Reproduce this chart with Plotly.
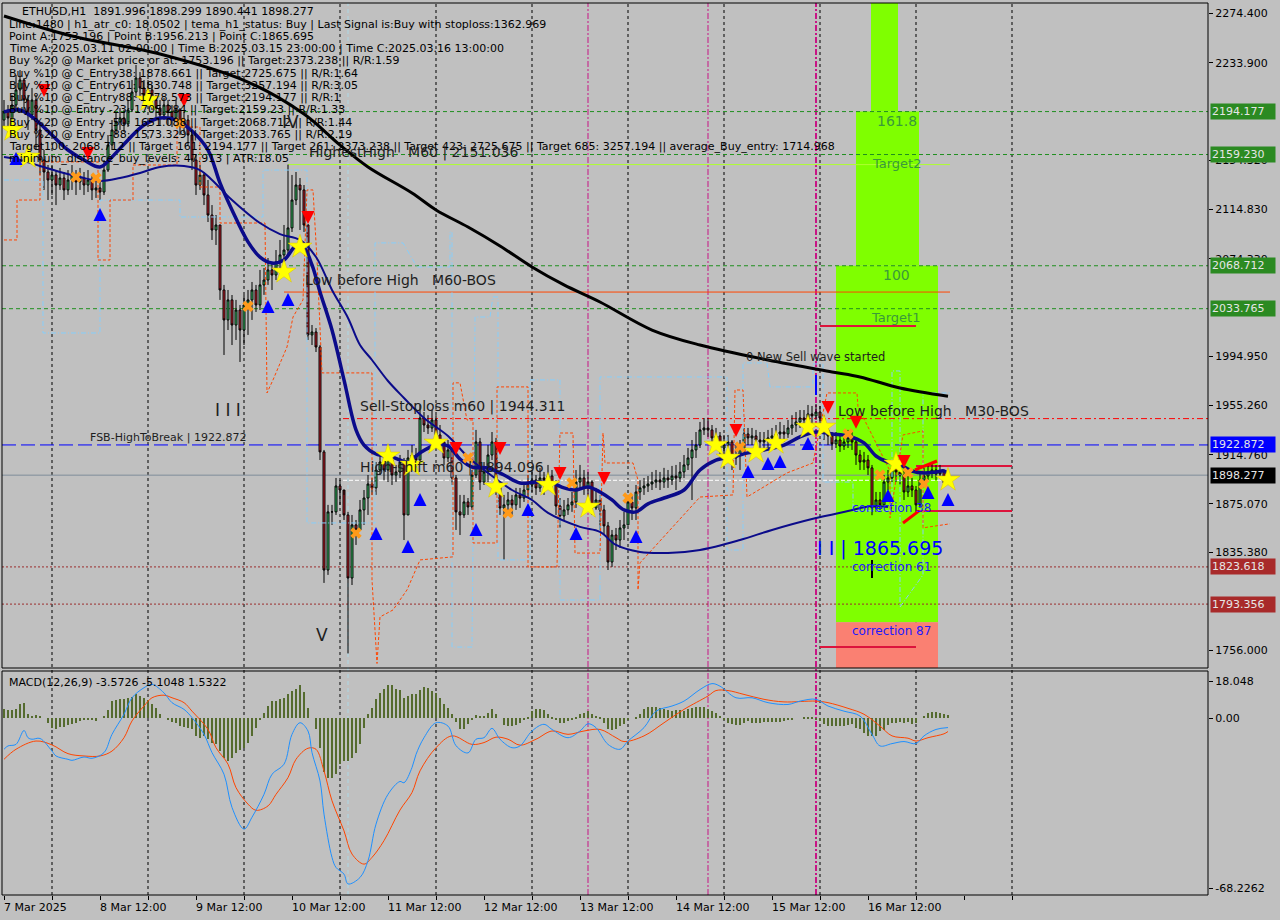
import plotly.graph_objects as go
import pandas as pd

FONT = "DejaVu Sans"
W, H = 1280, 920
ML, MR, MT, MB = 2, 72, 3, 25
PW = W - ML - MR
PH = H - MT - MB


def px(xp):
    return (xp - ML) / PW


def py(yp):
    return (H - MB - yp) / PH


# ---------------- data (ETHUSD H1) ----------------
start_time = "2025-03-07 12:00"
first_open = 2187.3
closes = [
    2194.0, 2189.0, 2199.5, 2211.8, 2219.9, 2203.6, 2191.4, 2203.6, 2179.2, 2154.8,
    2145.0, 2138.5, 2142.6, 2134.4, 2140.1, 2130.4, 2138.5, 2142.6, 2136.9, 2140.1,
    2134.4, 2138.5, 2130.4, 2132.0, 2128.7, 2146.6, 2167.0, 2179.2, 2185.7, 2189.0,
    2184.1, 2195.5, 2210.1, 2221.5, 2213.4, 2207.7, 2211.8, 2203.6, 2197.1, 2191.4,
    2199.5, 2193.8, 2189.0, 2195.5, 2183.3, 2187.3, 2175.1, 2154.8, 2134.4, 2142.6,
    2126.3, 2110.0, 2097.8, 2101.9, 2049.0, 2024.6, 2040.9, 2020.5, 2032.7, 2016.4,
    2036.8, 2040.9, 2049.0, 2036.8, 2053.1, 2057.1, 2065.3, 2061.2, 2071.8, 2077.5,
    2081.5, 2099.5, 2122.2, 2134.4, 2130.4, 2101.9, 2012.4, 2014.8, 2002.6, 1917.2,
    1821.1, 1868.4, 1868.4, 1889.5, 1886.2, 1865.9, 1814.6, 1857.8, 1853.7, 1870.0,
    1879.7, 1891.1, 1887.9, 1902.5, 1909.0, 1902.5, 1910.6, 1898.4, 1900.9, 1909.0,
    1865.9, 1912.3, 1914.7, 1910.6, 1944.8, 1939.1, 1936.7, 1943.2, 1931.0, 1925.3,
    1912.3, 1918.8, 1896.0, 1868.4, 1865.9, 1876.5, 1872.4, 1898.4, 1925.3, 1892.7,
    1900.9, 1914.7, 1925.3, 1889.5, 1871.6, 1874.1, 1878.1, 1874.1, 1882.2, 1879.7,
    1886.2, 1890.3, 1894.4, 1887.9, 1896.0, 1894.4, 1897.6, 1891.1, 1873.2, 1865.1,
    1870.0, 1874.1, 1876.5, 1892.7, 1896.0, 1887.9, 1892.7, 1871.6, 1878.1, 1870.0,
    1857.0, 1827.6, 1849.6, 1845.5, 1855.3, 1857.8, 1876.5, 1871.6, 1884.6, 1887.9,
    1889.5, 1891.1, 1892.7, 1894.4, 1892.7, 1896.0, 1894.4, 1897.6, 1896.0, 1900.9,
    1906.6, 1912.3, 1918.8, 1922.8, 1935.1, 1936.7, 1935.1, 1928.6, 1930.2, 1920.4,
    1922.8, 1925.3, 1912.3, 1914.7, 1920.4, 1931.8, 1928.6, 1930.2, 1926.9, 1925.3,
    1926.9, 1928.6, 1930.2, 1931.8, 1933.4, 1931.8, 1936.7, 1939.1, 1941.6, 1944.8,
    1943.2, 1948.1, 1946.5, 1949.7, 1944.8, 1935.1, 1930.2, 1923.7, 1926.9, 1922.0,
    1925.3, 1928.6, 1925.3, 1914.7, 1909.0, 1910.6, 1904.2, 1871.6, 1878.1, 1874.1,
    1892.7, 1896.0, 1904.2, 1900.9, 1898.4, 1884.6, 1889.5, 1886.2, 1874.1, 1894.4,
    1897.6, 1900.9, 1902.5, 1899.2, 1900.9, 1891.996, 1898.277,
]
highs = [
    2203.6, 2199.5, 2207.7, 2224.0, 2228.0, 2221.5, 2207.7, 2213.4, 2207.7, 2183.3,
    2162.9, 2150.7, 2150.7, 2146.6, 2148.3, 2145.0, 2146.6, 2150.7, 2146.6, 2148.3,
    2145.0, 2146.6, 2142.6, 2140.1, 2138.5, 2154.8, 2175.1, 2187.3, 2193.8, 2197.1,
    2195.5, 2203.6, 2219.9, 2232.1, 2226.4, 2219.9, 2219.9, 2215.8, 2207.7, 2203.6,
    2205.2, 2203.6, 2199.5, 2203.6, 2197.1, 2193.8, 2191.4, 2179.2, 2158.8, 2150.7,
    2145.0, 2138.5, 2118.1, 2110.0, 2101.9, 2053.1, 2049.0, 2044.9, 2040.9, 2036.8,
    2044.9, 2049.0, 2055.5, 2053.1, 2065.3, 2066.9, 2075.0, 2071.8, 2081.5, 2089.7,
    2101.9, 2151.036, 2142.6, 2145.0, 2140.1, 2134.4, 2102.5, 2020.5, 2018.0, 2004.2,
    1918.8, 1874.1, 1874.1, 1896.0, 1894.4, 1882.2, 1868.4, 1865.9, 1861.8, 1878.1,
    1886.2, 1898.4, 1896.0, 1909.0, 1914.7, 1914.7, 1920.4, 1914.7, 1906.6, 1914.7,
    1912.3, 1918.8, 1922.8, 1920.4, 1955.4, 1949.7, 1947.1, 1951.3, 1947.1, 1939.1,
    1926.9, 1926.9, 1918.8, 1898.4, 1882.2, 1882.2, 1879.7, 1902.5, 1935.1, 1928.6,
    1909.0, 1922.8, 1933.4, 1928.6, 1890.3, 1882.2, 1884.6, 1882.2, 1887.9, 1887.9,
    1892.7, 1898.4, 1902.5, 1898.4, 1904.2, 1900.9, 1906.6, 1902.5, 1894.4, 1879.7,
    1878.1, 1879.7, 1884.6, 1902.5, 1906.6, 1902.5, 1900.9, 1894.4, 1887.9, 1882.2,
    1874.1, 1860.2, 1853.7, 1855.3, 1861.8, 1868.4, 1882.2, 1882.2, 1890.3, 1894.4,
    1896.0, 1897.6, 1900.9, 1902.5, 1900.9, 1904.2, 1902.5, 1905.8, 1906.6, 1909.0,
    1914.7, 1920.4, 1926.9, 1933.4, 1941.6, 1944.8, 1944.8, 1939.1, 1936.7, 1933.4,
    1931.0, 1931.0, 1926.9, 1922.8, 1926.9, 1936.7, 1936.7, 1936.7, 1935.1, 1933.4,
    1933.4, 1935.1, 1936.7, 1939.1, 1941.6, 1939.1, 1943.2, 1947.1, 1949.7, 1951.3,
    1951.3, 1955.4, 1954.6, 1956.213, 1954.6, 1947.1, 1939.1, 1933.4, 1933.4, 1931.0,
    1931.8, 1935.1, 1933.4, 1928.6, 1918.8, 1917.2, 1914.7, 1906.6, 1884.6, 1884.6,
    1898.4, 1902.5, 1910.6, 1909.0, 1906.6, 1902.5, 1897.6, 1896.0, 1889.5, 1900.9,
    1904.2, 1906.6, 1909.0, 1906.6, 1906.6, 1902.0, 1898.299,
]
lows = [
    2181.6, 2175.1, 2185.7, 2195.5, 2203.6, 2195.5, 2179.2, 2187.3, 2162.9, 2142.6,
    2130.4, 2122.2, 2126.3, 2118.1, 2130.4, 2122.2, 2126.3, 2130.4, 2126.3, 2130.4,
    2126.3, 2128.7, 2122.2, 2123.9, 2122.2, 2126.3, 2145.0, 2162.9, 2175.1, 2179.2,
    2177.6, 2181.6, 2193.8, 2205.2, 2203.6, 2199.5, 2202.0, 2195.5, 2189.0, 2183.3,
    2187.3, 2183.3, 2181.6, 2185.7, 2175.1, 2176.8, 2167.0, 2146.6, 2126.3, 2130.4,
    2118.1, 2104.3, 2089.7, 2085.6, 2040.9, 1996.1, 2016.4, 2004.2, 2008.3, 1990.4,
    2004.2, 2012.4, 2024.6, 2031.1, 2032.7, 2045.0, 2053.1, 2049.0, 2057.1, 2065.3,
    2071.8, 2077.5, 2096.2, 2118.1, 2097.8, 2096.2, 2008.3, 2004.2, 1998.5, 1910.6,
    1810.6, 1817.1, 1857.8, 1865.9, 1874.1, 1861.8, 1753.196, 1808.9, 1841.5, 1853.7,
    1857.8, 1865.9, 1882.2, 1882.2, 1898.4, 1894.4, 1892.7, 1890.3, 1892.7, 1896.0,
    1845.5, 1865.9, 1906.6, 1902.5, 1909.0, 1933.4, 1931.8, 1933.4, 1922.8, 1918.8,
    1906.6, 1909.0, 1890.3, 1853.7, 1849.6, 1863.5, 1865.9, 1870.0, 1896.0, 1886.2,
    1890.3, 1892.7, 1910.6, 1882.2, 1865.9, 1829.3, 1868.4, 1865.9, 1870.0, 1871.6,
    1876.5, 1879.7, 1884.6, 1882.2, 1884.6, 1882.2, 1887.9, 1884.6, 1865.9, 1855.4,
    1861.8, 1865.9, 1868.4, 1871.6, 1887.9, 1882.2, 1878.1, 1865.9, 1870.0, 1853.7,
    1849.6, 1821.1, 1823.6, 1837.4, 1839.0, 1845.5, 1857.8, 1861.8, 1861.8, 1878.1,
    1882.2, 1884.6, 1886.2, 1887.9, 1886.2, 1887.9, 1887.9, 1890.3, 1886.2, 1892.7,
    1896.0, 1902.5, 1878.1, 1912.3, 1920.4, 1931.0, 1929.4, 1922.8, 1922.8, 1914.7,
    1912.3, 1918.8, 1902.5, 1906.6, 1902.5, 1914.7, 1922.8, 1922.8, 1918.8, 1918.8,
    1920.4, 1920.4, 1922.8, 1925.3, 1925.3, 1925.3, 1928.6, 1931.0, 1933.4, 1936.7,
    1936.7, 1940.0, 1940.0, 1943.2, 1935.1, 1926.9, 1922.8, 1918.8, 1920.4, 1917.2,
    1918.8, 1920.4, 1918.8, 1906.6, 1902.5, 1902.5, 1898.4, 1865.695, 1868.4, 1868.4,
    1874.1, 1886.2, 1892.7, 1892.7, 1890.3, 1878.1, 1880.5, 1880.5, 1868.4, 1871.6,
    1890.3, 1894.4, 1896.0, 1894.4, 1896.0, 1890.5, 1890.441,
]
n_bars = len(closes)
bars = list(range(n_bars))
# H1 crypto bars open at the previous bar's close
opens = [first_open] + closes[:-1]
times = pd.date_range(start_time, periods=n_bars, freq="h")

# indicator lines: (bar, value)
tema_pts = [(0, 2193.9), (4, 2195.5), (8, 2187.3), (12, 2175.1), (16, 2162.9), (20, 2154.8), (24, 2149.1),
            (27, 2157.2), (31, 2171.1), (35, 2183.3), (39, 2189.0), (43, 2187.3), (47, 2178.4), (51, 2162.9),
            (54, 2136.1), (57, 2114.1), (61, 2088.1), (64, 2075.8), (67, 2070.9), (70, 2073.4), (73, 2084.8),
            (75, 2083.2), (77, 2069.4), (79, 2047.4), (82, 2016.4), (85, 1975.8), (88, 1935.1), (90, 1922.8),
            (93, 1915.5), (97, 1913.1), (101, 1909.0), (104, 1916.4), (108, 1922.8), (111, 1922.0), (114, 1911.4),
            (117, 1904.9), (121, 1904.1), (125, 1898.4), (129, 1891.9), (133, 1892.7), (137, 1891.9), (140, 1887.9),
            (143, 1886.2), (146, 1888.7), (149, 1884.6), (152, 1878.1), (155, 1870.0), (158, 1868.4), (161, 1874.9),
            (165, 1879.7), (170, 1886.2), (174, 1902.5), (178, 1910.6), (182, 1913.1), (186, 1916.4), (190, 1918.8),
            (195, 1922.8), (199, 1929.4), (203, 1933.4), (207, 1931.8), (211, 1930.2), (215, 1924.5), (218, 1913.9),
            (221, 1909.0), (224, 1906.6), (227, 1901.7), (230, 1900.1), (233, 1900.9), (235, 1901.7), (236, 1899.2)]
ma_pts = [(0, 2157.2), (4, 2154.8), (9, 2149.9), (14, 2145.0), (19, 2140.9), (24, 2137.7), (29, 2140.1),
          (34, 2144.2), (39, 2149.1), (45, 2149.9), (49, 2146.6), (52, 2138.5), (57, 2122.2), (64, 2103.5),
          (69, 2094.5), (74, 2089.7), (78, 2075.8), (82, 2049.0), (86, 2026.2), (89, 2004.2), (92, 1992.0),
          (96, 1974.9), (100, 1961.1), (105, 1944.8), (111, 1930.2), (116, 1913.1), (121, 1900.1), (127, 1886.2),
          (132, 1878.1), (136, 1867.6), (144, 1856.2), (149, 1852.1), (153, 1841.5), (159, 1835.8), (166, 1835.0),
          (174, 1837.4), (184, 1845.5), (192, 1853.7), (202, 1862.6), (211, 1869.1), (217, 1873.2), (221, 1872.4)]
ma200_pts = [(0, 2272.0), (17, 2255.7), (39, 2241.0), (61, 2218.2), (75, 2192.2), (84, 2166.9), (91, 2149.1),
             (102, 2127.9), (108, 2114.1), (116, 2100.2), (124, 2084.8), (132, 2067.7), (140, 2053.1), (149, 2039.2),
             (162, 2016.4), (174, 2004.2), (191, 1992.0), (207, 1982.3), (214, 1978.2), (224, 1969.2), (236, 1962.5)]
atr_stop_pts = [(0, 2089.7), (3.25, 2089.7), (3.25, 2122.2), (9, 2122.2), (9, 2153.2), (23.5, 2153.2), (23.5, 2073.4),
                (26.5, 2073.4), (26.5, 2122.2), (32.25, 2122.2), (32.25, 2150.7), (43.25, 2150.7), (43.25, 2181.6),
                (49, 2181.6), (49, 2132.8), (54, 2132.8), (54, 2103.5), (65.25, 2103.5), (65.75, 1965.2), (67.25, 1975.8),
                (70.75, 2002.6), (72.25, 2027.0), (74.75, 2040.9), (75.75, 2130.4), (77.25, 2130.4), (78.25, 2073.4),
                (79.5, 1981.5), (92, 1981.5), (92, 1813.0), (93.25, 1745.0), (94, 1782.9), (97.25, 1788.6),
                (100.75, 1804.9), (104, 1829.3), (112.25, 1831.8), (112.25, 1973.4), (114, 1973.4), (115.75, 1943.2),
                (117.25, 1943.2), (117.25, 1843.1), (123.25, 1843.1), (123.25, 1970.1), (131, 1970.1), (131, 1823.6),
                (138.25, 1823.6), (139, 1932.6), (142.25, 1932.6), (142.75, 1834.9), (149, 1834.9), (149.75, 1932.6),
                (150.25, 1908.2), (157.25, 1908.2), (158.5, 1894.4), (158.5, 1804.9), (159, 1826.9), (174, 1880.5),
                (182.25, 1882.2), (182.75, 1967.6), (184.75, 1967.6), (185.75, 1880.5), (195.75, 1900.1),
                (202.25, 1908.2), (205.75, 1965.2), (213.25, 1965.2), (213.5, 1953.8), (221.5, 1901.7),
                (221.5, 1863.5), (224.75, 1931.0), (229.75, 1934.3), (229.75, 1855.4), (236.5, 1858.7)]
channel_pts = [(0, 2138.5), (9.75, 2138.5), (9.75, 2014.0), (24, 2014.0), (24, 2122.2), (44, 2122.2), (44, 2108.4),
               (64.75, 2108.4), (64.75, 2146.6), (75.75, 2146.6), (75.75, 1859.4), (92.75, 1859.4), (92.75, 2087.3),
               (99.75, 2087.3), (103.25, 2067.7), (111.5, 2067.7), (111.5, 2096.2), (112, 2096.2), (112, 1758.4),
               (117, 1758.4), (117.75, 2027.0), (121.5, 2027.0), (122.25, 2043.3), (123.5, 2043.3), (123.5, 1829.3),
               (131.5, 1829.3), (131.5, 1975.8), (139, 1975.8), (139, 1796.7), (149, 1796.7), (149, 1978.2),
               (180.75, 1978.2), (180.75, 1837.4), (184.75, 1837.4), (184.75, 1989.6), (190.75, 1989.6),
               (191.5, 1970.1), (202.25, 1970.1), (202.25, 1988.8), (204.75, 1988.8), (204.75, 1892.7),
               (212.25, 1892.7), (212.25, 1869.3), (222, 1869.3), (222, 1983.1), (224, 1983.1), (224, 1791.0),
               (229.75, 1817.1), (229.75, 1965.2), (236.5, 1965.2)]

# signal markers: (bar, price)
star_pts = [(2, 2179.2), (6, 2157.2), (36, 2203.6), (70, 2063.7), (74, 2084.0), (96, 1913.9), (102, 1906.6),
            (108, 1924.5), (123, 1888.7), (136, 1890.3), (146, 1872.4), (178, 1922.8), (181, 1912.3), (188, 1917.2),
            (193, 1924.5), (201, 1937.5), (205, 1937.5), (223, 1907.4), (236, 1894.4)]
cross_pts = [(18, 2140.9), (23, 2140.1), (44, 2184.9), (61, 2035.7), (88, 1851.2), (116, 1912.3), (126, 1867.6),
             (142, 1892.0), (156, 1879.7), (184, 1921.2), (211, 1931.8), (219, 1898.4), (226, 1900.1), (230, 1891.1)]
buy_arrow_pts = [(3, 2161.3), (24, 2115.7), (66, 2040.9), (71, 2046.6), (93, 1856.2), (101, 1845.5), (104, 1883.8),
                 (118, 1859.4), (131, 1875.7), (143, 1856.2), (158, 1853.7), (186, 1906.6), (191, 1913.1),
                 (194, 1914.7), (201, 1929.4), (221, 1887.1), (231, 1889.5), (236, 1883.8)]
sell_arrow_pts = [(10, 2206.1), (21, 2154.8), (45, 2197.9), (76, 2102.7), (113, 1914.7), (124, 1914.7),
                  (139, 1894.4), (150, 1890.3), (183, 1929.4), (206, 1948.1), (213, 1936.0), (225, 1904.2)]

# MACD(12,26,9)
macd_hist = [
    3.5, 3.3, 3.3, 3.8, 5.5, 5.8, 1.6, 0.9, 1.3, 0.9,
    0.0, -1.7, -3.6, -4.0, -3.4, -3.4, -2.6, -2.3, -1.7, -1.0,
    -0.8, -0.8, -0.8, -1.0, 0.0, 0.9, 3.1, 6.7, 7.1, 7.4,
    7.6, 8.0, 8.3, 9.6, 8.7, 8.0, 7.1, 5.4, 3.9, 1.8,
    0.0, -0.8, -1.3, -1.7, -3.0, -3.4, -3.6, -4.3, -6.8, -7.5,
    -6.8, -8.1, -9.4, -10.1, -12.7, -15.2, -16.5, -15.2, -13.3, -12.4,
    -11.6, -9.4, -6.8, -3.6, -0.4, 2.2, 4.8, 6.7, 6.7, 7.4,
    7.8, 9.3, 10.6, 11.6, 12.9, 10.3, 4.1, 0.0, -4.3, -11.4,
    -21.0, -23.0, -23.0, -21.7, -17.8, -16.5, -16.5, -15.2, -13.3, -10.1,
    -3.6, 1.6, 4.1, 7.4, 9.9, 11.6, 12.9, 12.9, 11.6, 10.9,
    8.0, 8.7, 9.5, 9.3, 11.2, 12.1, 11.7, 10.8, 10.0, 8.0,
    5.7, 3.9, 1.6, -1.3, -4.3, -4.3, -2.3, -0.4, 1.3, 0.9,
    0.9, 2.2, 3.5, 1.6, 0.0, -2.6, -3.0, -3.0, -2.6, -1.7,
    -0.4, 0.6, 2.8, 3.5, 3.7, 3.1, 1.8, 0.6, -0.4, -1.7,
    -1.7, -1.0, -0.4, 0.3, 1.6, 2.2, 2.8, 1.6, 0.9, 0.3,
    -1.7, -4.3, -4.7, -4.3, -3.0, -2.1, -0.7, 0.0, 0.6, 1.6,
    3.5, 4.4, 4.4, 4.4, 4.1, 3.5, 3.1, 2.8, 3.1,
    3.1, 2.8, 3.5, 3.9, 4.4, 4.4, 4.4, 3.5, 2.8,
    2.2, 0.9, -0.4, -1.7, -2.1, -2.6, -2.6, -1.7, -1.0, -1.7,
    -1.7, -1.7, -1.4, -1.3, -1.3, -1.4, -1.3, -1.0, -0.7,
    -0.4, 0.0, 0.0, 0.3, 0.6, 0.6, -0.4, -1.0, -2.3, -3.0,
    -3.0, -3.0, -3.0, -3.0, -2.6, -2.3, -3.6, -4.3, -5.6, -6.8,
    -6.8, -6.8, -4.9, -4.7, -2.6, -1.7, -1.7, -1.3, -1.7, -1.3,
    -2.3, -1.7, 0.0, 0.9, 2.2, 2.6, 2.6, 2.2, 1.8, 1.5,
]
macd_main_pts = [(0, -12.0), (1, -10.7), (3, -10.1), (5, -4.7), (6, -7.5), (7, -8.1), (9, -7.8), (12, -12.7),
                 (13, -14.6), (16, -15.9), (17, -16.3), (20, -15.0), (22, -15.5), (25, -13.3), (27, -6.2), (30, 1.6),
                 (32, 8.0), (35, 11.9), (37, 13.2), (40, 9.9), (42, 6.1), (45, 3.5), (47, 0.3), (50, -6.2),
                 (52, -13.3), (55, -21.7), (57, -34.6), (60, -43.0), (62, -38.4), (65, -29.5), (67, -21.7),
                 (70, -17.8), (72, -6.2), (74, -1.7), (76, -4.9), (77, -13.3), (79, -24.3), (80, -37.2), (82, -54.0),
                 (83, -57.9), (85, -60.5), (86, -64.3), (89, -61.8), (91, -55.3), (93, -41.1), (96, -29.5),
                 (99, -24.5), (100, -25.0), (102, -19.1), (103, -14.0), (105, -7.5), (108, -1.7), (111, -3.0),
                 (113, -10.6), (116, -13.4), (118, -8.1), (120, -7.5), (122, -3.9), (124, -8.1), (127, -11.4),
                 (129, -10.7), (132, -4.9), (135, -2.3), (137, -4.3), (141, -7.5), (144, -4.9), (146, -2.1),
                 (148, -3.6), (151, -10.1), (154, -12.0), (156, -8.8), (160, -3.6), (163, 2.8), (167, 4.8),
                 (170, 6.7), (174, 11.2), (177, 13.5), (179, 12.5), (183, 8.0), (187, 8.0), (191, 6.1), (196, 5.4),
                 (199, 6.7), (203, 7.4), (206, 4.8), (210, 2.8), (214, 0.9), (217, -6.2), (219, -10.7), (222, -9.8),
                 (225, -9.0), (228, -9.8), (230, -6.8), (233, -4.3), (236, -3.5726)]
macd_signal_pts = [(0, -15.9), (3, -12.0), (8, -8.8), (12, -10.3), (16, -13.7), (20, -14.6), (24, -14.6),
                   (27, -12.7), (30, -7.5), (32, -1.0), (35, 4.8), (37, 8.0), (40, 9.0), (42, 8.0), (45, 6.1),
                   (47, 2.8), (51, -4.3), (53, -11.4), (56, -17.8), (58, -26.9), (61, -33.3), (63, -35.7),
                   (66, -34.0), (68, -29.5), (71, -23.0), (73, -15.9), (76, -11.6), (78, -12.0), (80, -20.4),
                   (82, -32.0), (85, -43.7), (87, -52.7), (90, -56.6), (92, -54.0), (95, -47.5), (99, -35.6),
                   (102, -28.8), (104, -20.4), (108, -11.4), (112, -6.8), (117, -10.1), (120, -9.4), (123, -7.3),
                   (126, -8.1), (129, -10.4), (133, -8.1), (137, -4.9), (141, -6.2), (145, -4.9), (149, -4.3),
                   (153, -7.5), (155, -9.0), (160, -6.8), (165, -1.7), (170, 3.5), (176, 8.7), (178, 10.8),
                   (181, 10.8), (185, 9.3), (190, 7.4), (195, 6.4), (203, 6.7), (206, 6.1), (211, 3.9), (215, 1.6),
                   (219, -3.0), (222, -6.8), (226, -7.7), (228, -8.8), (231, -7.5), (235, -6.0), (236, -5.1048)]

# levels
lvl_target161 = 2194.177
lvl_target_e23 = 2159.230
lvl_target100 = 2068.712
lvl_target_e88 = 2033.765
lvl_fsb = 1922.872
lvl_last = 1898.277
lvl_red1 = 1823.618
lvl_red2 = 1793.356
lvl_highest_high = 2151.036
lvl_low_before_high = 2047.3
lvl_sell_sl = 1944.311
lvl_high_shift = 1894.096
lvl_c38 = 1878.661
lvl_c61 = 1830.748
lvl_c88 = 1778.573
box_levels = [2194.177, 2159.230, 2068.712, 2033.765, 1922.872, 1898.277, 1823.618, 1793.356]
box_colors = ["#2b8a22", "#2b8a22", "#2b8a22", "#2b8a22", "#0000ff", "#000000", "#a82a2a", "#a82a2a"]
price_ticks = [2274.400, 2233.900, 2154.320, 2114.830, 2074.330, 1994.950,
               1955.260, 1914.760, 1875.070, 1835.380, 1756.000]
xlabel_times = ["2025-03-07 12:00", "2025-03-08 12:00", "2025-03-09 12:00", "2025-03-10 12:00",
                "2025-03-11 12:00", "2025-03-12 12:00", "2025-03-13 12:00", "2025-03-14 12:00",
                "2025-03-15 12:00", "2025-03-16 12:00"]
xlabel_text = ["7 Mar 2025", "8 Mar 12:00", "9 Mar 12:00", "10 Mar 12:00", "11 Mar 12:00",
               "12 Mar 12:00", "13 Mar 12:00", "14 Mar 12:00", "15 Mar 12:00", "16 Mar 12:00"]

info_lines = [
    "Line:1480 | h1_atr_c0: 18.0502 | tema_h1_status: Buy | Last Signal is:Buy with stoploss:1362.969",
    "Point A:1753.196 | Point B:1956.213 | Point C:1865.695",
    "Time A:2025.03.11 02:00:00 | Time B:2025.03.15 23:00:00 | Time C:2025.03.16 13:00:00",
    "Buy %20 @ Market price or at: 1753.196 || Target:2373.238 || R/R:1.59",
    "Buy %10 @ C_Entry38: 1878.661 || Target:2725.675 || R/R:1.64",
    "Buy %10 @ C_Entry61: 1830.748 || Target:3257.194 || R/R:3.05",
    "Buy %10 @ C_Entry88: 1778.573 || Target:2194.177 || R/R:1",
    "Buy %10 @ Entry -23: 1705.284 || Target:2159.23 || R/R:1.33",
    "Buy %20 @ Entry -50: 1651.088 || Target:2068.712 || R/R:1.44",
    "Buy %20 @ Entry -88: 1573.329 || Target:2033.765 || R/R:2.19",
    "Target100: 2068.712 || Target 161: 2194.177 || Target 261: 2373.238 || Target 423: 2725.675 || "
    "Target 685: 3257.194 || average_Buy_entry: 1714.968",
    "minimum_distance_buy_levels: 47.913 | ATR:18.05",
]

# ---------------- figure ----------------
X_RANGE = [-0.5, 301.0]
Y_RANGE = [1741.35, 2282.54]
M_RANGE = [-68.6, 18.4]
main_bottom = py(668)
macd_top = py(671)

fig = go.Figure()


def unzip(pts):
    return [p[0] for p in pts], [p[1] for p in pts]


# step bands (behind)
xs, ys = unzip(channel_pts)
fig.add_trace(go.Scatter(x=xs, y=ys, mode="lines", line=dict(color="#87cefa", width=1, dash="5px,2px,1px,2px"),
                         hoverinfo="skip", showlegend=False))
xs, ys = unzip(atr_stop_pts)
fig.add_trace(go.Scatter(x=xs, y=ys, mode="lines", line=dict(color="#ff4500", width=1, dash="3px,2px"),
                         hoverinfo="skip", showlegend=False))

fig.add_trace(go.Candlestick(
    x=bars, open=opens, high=highs, low=lows, close=closes,
    increasing=dict(fillcolor="#3ccf6e", line=dict(color="#000000", width=1)),
    decreasing=dict(fillcolor="#d4202c", line=dict(color="#000000", width=1)),
    whiskerwidth=0, hoverinfo="skip", showlegend=False))

xs, ys = unzip(ma200_pts)
fig.add_trace(go.Scatter(x=xs, y=ys, mode="lines", line=dict(color="#000000", width=3, shape="spline"),
                         hoverinfo="skip", showlegend=False))
xs, ys = unzip(ma_pts)
fig.add_trace(go.Scatter(x=xs, y=ys, mode="lines", line=dict(color="#0b0b8a", width=2, shape="spline"),
                         hoverinfo="skip", showlegend=False))
xs, ys = unzip(tema_pts)
fig.add_trace(go.Scatter(x=xs, y=ys, mode="lines", line=dict(color="#0b0b8a", width=3.5, shape="spline"),
                         hoverinfo="skip", showlegend=False))

xs, ys = unzip(cross_pts)
fig.add_trace(go.Scatter(x=xs, y=ys, mode="markers", marker=dict(symbol="x", size=10, color="#ff9a1a",
                                                                  line=dict(width=0)),
                         hoverinfo="skip", showlegend=False))
xs, ys = unzip(star_pts)
fig.add_trace(go.Scatter(x=xs, y=ys, mode="markers", marker=dict(symbol="star", size=18, color="#ffff00",
                                                                  line=dict(width=0.5, color="#d8c000")),
                         hoverinfo="skip", showlegend=False))
xs, ys = unzip(buy_arrow_pts)
fig.add_trace(go.Scatter(x=xs, y=ys, mode="markers", marker=dict(symbol="arrow-up", size=13, color="#0000ff",
                                                                  line=dict(width=0)),
                         hoverinfo="skip", showlegend=False))
xs, ys = unzip(sell_arrow_pts)
fig.add_trace(go.Scatter(x=xs, y=ys, mode="markers", marker=dict(symbol="arrow-down", size=13, color="#ff0000",
                                                                  line=dict(width=0)),
                         hoverinfo="skip", showlegend=False))

# MACD panel
fig.add_trace(go.Bar(x=bars, y=macd_hist, marker=dict(color="#556b2f", line=dict(width=0)), width=0.7,
                     xaxis="x2", yaxis="y2", hoverinfo="skip", showlegend=False))
xs, ys = unzip(macd_signal_pts)
fig.add_trace(go.Scatter(x=xs, y=ys, mode="lines", line=dict(color="#ff4500", width=1, shape="spline"),
                         xaxis="x2", yaxis="y2", hoverinfo="skip", showlegend=False))
xs, ys = unzip(macd_main_pts)
fig.add_trace(go.Scatter(x=xs, y=ys, mode="lines", line=dict(color="#1e90ff", width=1, shape="spline"),
                         xaxis="x2", yaxis="y2", hoverinfo="skip", showlegend=False))

# ---------------- shapes ----------------
shapes = []


def hline(y, x0, x1, color, width=1, dash="solid", layer="below"):
    shapes.append(dict(type="line", xref="x", yref="y", x0=x0, x1=x1, y0=y, y1=y, layer=layer,
                       line=dict(color=color, width=width, dash=dash)))


def vline(x, color, width=1, dash="solid", y0=0, y1=1, layer="below"):
    shapes.append(dict(type="line", xref="x", yref="paper", x0=x, x1=x, y0=y0, y1=y1, layer=layer,
                       line=dict(color=color, width=width, dash=dash)))


# target zone boxes
shapes.append(dict(type="rect", xref="x", yref="y", x0=216.75, x1=223.5, y0=lvl_target161, y1=2300,
                   fillcolor="#7fff00", line=dict(width=0), layer="below"))
shapes.append(dict(type="rect", xref="x", yref="y", x0=213.0, x1=228.75, y0=lvl_target100, y1=lvl_target161,
                   fillcolor="#7fff00", line=dict(width=0), layer="below"))
shapes.append(dict(type="rect", xref="x", yref="y", x0=208.0, x1=233.5, y0=lvl_c88, y1=lvl_target100,
                   fillcolor="#7fff00", line=dict(width=0), layer="below"))
shapes.append(dict(type="rect", xref="x", yref="y", x0=208.0, x1=233.5, y0=1700, y1=lvl_c88,
                   fillcolor="#fa8072", line=dict(width=0), layer="below"))

# time grid (midnights)
grid_times = pd.date_range(start_time, periods=253, freq="h")
for i, t in enumerate(grid_times):
    if t.hour == 0:
        vline(i, "#000000", 1, "3px,3px")

vline(86, "#add8e6", 1, "4px,3px")
vline(146, "#c71585", 1, "6px,2px,2px,2px")
vline(176, "#c71585", 1, "6px,2px,2px,2px")
vline(203, "#c71585", 2, "6px,2px,2px,2px")

for lv in [lvl_target161, lvl_target_e23, lvl_target100, lvl_target_e88]:
    hline(lv, X_RANGE[0], X_RANGE[1], "#1f8f1f", 1, "4px,3px")
for lv in [lvl_red1, lvl_red2]:
    hline(lv, X_RANGE[0], X_RANGE[1], "#9b2d2d", 1, "2px,2px")
hline(lvl_fsb, X_RANGE[0], X_RANGE[1], "#0000ff", 1, "14px,5px")
hline(lvl_last, X_RANGE[0], X_RANGE[1], "#7f8c99", 1)
hline(lvl_highest_high, 71, 236.5, "#adff2f", 1)
hline(lvl_low_before_high, 70, 236.5, "#ff4500", 1)
hline(lvl_sell_sl, 84.75, X_RANGE[1], "#ff0000", 1, "6px,3px,2px,3px")
hline(lvl_high_shift, 84.75, 236.5, "#ffffff", 1, "4px,2px")
hline(2019.7, 204, 228, "#dc143c", 2)
hline(1758.4, 204, 228, "#dc143c", 2)
hline(1905.7, 228, 252, "#dc143c", 2)
hline(1869.2, 228, 252, "#dc143c", 2)
shapes.append(dict(type="line", xref="x", yref="y", x0=224.75, y0=1859.4, x1=228.75, y1=1869.2,
                   line=dict(color="#ff0000", width=3)))
shapes.append(dict(type="line", xref="x", yref="y", x0=227.75, y0=1902.5, x1=233.25, y1=1909.8,
                   line=dict(color="#ff0000", width=3)))
shapes.append(dict(type="line", xref="x", yref="y", x0=203, y0=1963.6, x1=203, y1=1979.9,
                   line=dict(color="#0000ff", width=2)))
shapes.append(dict(type="line", xref="x", yref="y", x0=217, y0=1814.6, x1=217, y1=1829.3,
                   line=dict(color="#000000", width=2)))

# panel frames
shapes.append(dict(type="rect", xref="paper", yref="paper", x0=0, x1=1, y0=main_bottom, y1=1,
                   line=dict(color="#000000", width=1), fillcolor="rgba(0,0,0,0)", layer="above"))
shapes.append(dict(type="rect", xref="paper", yref="paper", x0=0, x1=1, y0=0, y1=macd_top,
                   line=dict(color="#000000", width=1), fillcolor="rgba(0,0,0,0)", layer="above"))

# ---------------- annotations ----------------
ann = []
NB = "\u00a0"


def txt(text, x, y, size, color="#000000", xanchor="left", yanchor="middle", xref="paper", yref="paper",
        xshift=0, yshift=0):
    ann.append(dict(text=text.replace("  ", NB + NB), x=x, y=y, xref=xref, yref=yref, xanchor=xanchor,
                    yanchor=yanchor, showarrow=False, xshift=xshift, yshift=yshift,
                    font=dict(family=FONT, size=size, color=color)))


txt("ETHUSD,H1  1891.996 1898.299 1890.441 1898.277", px(20), py(12), 11)
for k, line in enumerate(info_lines):
    txt(line, px(7), py(24.4 + 12.2 * k), 11)

lab_col = "#1e1e1e"
txt("HighestHigh   M60 | 2151.036", 75.75, lvl_highest_high, 14, lab_col, yanchor="bottom", xref="x", yref="y",
    yshift=2)
txt("IV", 71.5, 2185.7, 17, lab_col, xanchor="center", xref="x", yref="y")
txt("Low before High   M60-BOS", 74.75, lvl_low_before_high, 14, lab_col, yanchor="bottom", xref="x", yref="y",
    yshift=2)
txt("I I I", 56, 1951.3, 17, lab_col, xanchor="center", xref="x", yref="y")
txt("Sell-Stoploss m60 | 1944.311", 88.5, lvl_sell_sl, 14, lab_col, yanchor="bottom", xref="x", yref="y", yshift=2)
txt("FSB-HighToBreak | 1922.872", 21, lvl_fsb, 11, lab_col, yanchor="bottom", xref="x", yref="y", yshift=-1)
txt("High-shift m60 | 1894.096", 88.5, lvl_high_shift, 14, lab_col, yanchor="bottom", xref="x", yref="y", yshift=2)
txt("V", 79.5, 1768.2, 17, lab_col, xanchor="center", xref="x", yref="y")
txt("0 New Sell wave started", 185, 1994.3, 11.5, lab_col, xref="x", yref="y")
txt("Low before High   M30-BOS", 208, lvl_sell_sl, 14, lab_col, yanchor="bottom", xref="x", yref="y", yshift=-2)

grn = "#3a9a3a"
txt("161.8", 223.25, lvl_target161, 14, grn, xanchor="center", yanchor="top", xref="x", yref="y", yshift=1)
txt("Target2", 223.25, lvl_target_e23, 13, grn, xanchor="center", yanchor="top", xref="x", yref="y", yshift=1)
txt("100", 223.0, lvl_target100, 14, grn, xanchor="center", yanchor="top", xref="x", yref="y", yshift=1)
txt("Target1", 223.0, lvl_target_e88, 13, grn, xanchor="center", yanchor="top", xref="x", yref="y", yshift=1)
blu = "#1a1aff"
txt("correction 38", 221.75, lvl_c38, 12, blu, xanchor="center", yanchor="top", xref="x", yref="y", yshift=0)
txt("correction 61", 221.75, lvl_c61, 12, blu, xanchor="center", yanchor="top", xref="x", yref="y", yshift=0)
txt("correction 87", 221.75, lvl_c88, 12, blu, xanchor="center", yanchor="top", xref="x", yref="y", yshift=0)
txt("I I | 1865.695", 202.75, 1838.2, 19, "#0000ff", xref="x", yref="y")

txt("MACD(12,26,9) -3.5726 -5.1048 1.5322", px(7), py(682), 11)

# price boxes on the right axis
for lv, col in zip(box_levels, box_colors):
    ann.append(dict(text=f"{lv:.3f}", x=1, xref="paper", y=lv, yref="y", xanchor="left", yanchor="middle",
                    xshift=2, showarrow=False, bgcolor=col, width=62, height=13, align="left", borderpad=1,
                    font=dict(family=FONT, size=11, color="#e6e6e6")))

# time axis labels
for t, label in zip(xlabel_times, xlabel_text):
    ann.append(dict(text=label, x=times.get_loc(pd.Timestamp(t)), xref="x2", y=py(907), yref="paper",
                    xanchor="left", yanchor="middle", xshift=-2, showarrow=False,
                    font=dict(family=FONT, size=11, color="#000000")))

fig.update_layout(
    width=W, height=H, autosize=False,
    margin=dict(l=ML, r=MR, t=MT, b=MB),
    paper_bgcolor="#c0c0c0", plot_bgcolor="#c0c0c0",
    showlegend=False, bargap=0,
    font=dict(family=FONT, size=11, color="#000000"),
    shapes=shapes, annotations=ann,
    xaxis=dict(domain=[0, 1], range=X_RANGE, anchor="y", showticklabels=False, showgrid=False, zeroline=False,
               rangeslider=dict(visible=False), ticks="", showline=False, fixedrange=True, automargin=False),
    xaxis2=dict(domain=[0, 1], range=X_RANGE, anchor="y2", showticklabels=False, showgrid=False, zeroline=False,
                tickmode="array", tickvals=list(range(0, 253, 12)), ticks="outside", ticklen=4,
                tickcolor="#000000", showline=False, automargin=False),
    yaxis=dict(domain=[main_bottom, 1], range=Y_RANGE, side="right", anchor="x", showgrid=False, zeroline=False,
               tickmode="array", tickvals=price_ticks, ticktext=[f"{v:.3f}" for v in price_ticks],
               ticks="outside", ticklen=4, tickcolor="#000000", tickfont=dict(family=FONT, size=11),
               automargin=False),
    yaxis2=dict(domain=[0, macd_top], range=M_RANGE, side="right", anchor="x2", showgrid=False, zeroline=False,
                tickmode="array", tickvals=[14.5, 0.0, -65.9], ticktext=["18.048", "0.00", "-68.2262"],
                ticks="outside", ticklen=4, tickcolor="#000000", tickfont=dict(family=FONT, size=11),
                automargin=False),
)

fig.write_html("out.html", config={"displayModeBar": False},
               post_script="document.body.style.margin='0px';document.body.style.overflow='hidden';")
